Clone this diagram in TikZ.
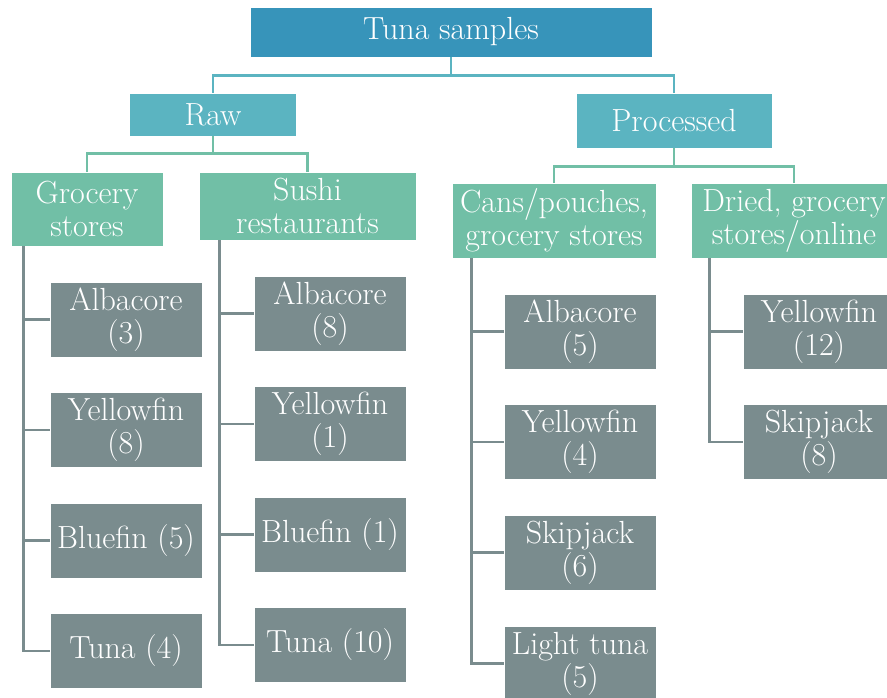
\documentclass[tikz,border=0pt]{standalone}
\usetikzlibrary{positioning}

\definecolor{rootblue}{HTML}{3794BA}
\definecolor{midblue}{HTML}{5BB4C1}
\definecolor{groupgreen}{HTML}{71BFA6}
\definecolor{leafgray}{HTML}{7A8C8E}

\tikzset{
    box/.style={rectangle, inner sep=0pt, align=center, text=white,
        font=\rmfamily\fontsize{32}{33}\selectfont, draw=white, line width=0.6pt},
    rootbox/.style={box, fill=rootblue},
    kindbox/.style={box, fill=midblue},
    placebox/.style={box, fill=groupgreen},
    leafbox/.style={box, fill=leafgray, minimum width=152pt, minimum height=75pt},
    kindline/.style={draw=midblue, line width=2.6pt},
    placeline/.style={draw=groupgreen, line width=2.6pt},
    leafline/.style={draw=leafgray, line width=2.6pt},
}

\begin{document}
\begin{tikzpicture}[x=1pt,y=-1pt]
    \useasboundingbox (0,0) rectangle (887,698);

    %TOP LEVELS
    \node[rootbox, minimum width=402pt, minimum height=50pt] (tuna) at (451,32) {Tuna samples};
    \node[kindbox, minimum width=167pt, minimum height=43pt] (raw) at (213,114.5) {Raw};
    \node[kindbox, minimum width=196pt, minimum height=55pt] (proc) at (674,120.5) {Processed};

    %WHERE THEY WERE BOUGHT
    \node[placebox, minimum width=152pt, minimum height=74pt] (groc) at (87,209) {Grocery\\stores};
    \node[placebox, minimum width=217pt, minimum height=68pt] (sushi) at (307.5,206) {Sushi\\restaurants};
    \node[placebox, minimum width=204pt, minimum height=75pt] (cans) at (554,220.5) {Cans/pouches,\\grocery stores};
    \node[placebox, minimum width=206pt, minimum height=75pt] (dried) at (794,220.5) {Dried, grocery\\stores/online};

    %connectors between the upper levels
    \draw[kindline] (tuna.south) -- ++(0,18) -| (raw.north);
    \draw[kindline] (tuna.south) -- ++(0,18) -| (proc.north);
    \draw[placeline] (raw.south) -- ++(0,17) -| (groc.north);
    \draw[placeline] (raw.south) -- ++(0,17) -| (sushi.north);
    \draw[placeline] (proc.south) -- ++(0,18) -| (cans.north);
    \draw[placeline] (proc.south) -- ++(0,18) -| (dried.north);

    %SPECIES (name/text/x/y/parent/offset of the side line)
    \foreach \name/\txt/\x/\y/\parent/\off in {
        g1/{Albacore\\(3)}/126/319.5/groc/13,
        g2/{Yellowfin\\(8)}/126/430/groc/13,
        g3/{Bluefin (5)}/126/540.5/groc/13,
        g4/{Tuna (4)}/126/651/groc/13,
        s1/{Albacore\\(8)}/330/313.5/sushi/21,
        s2/{Yellowfin\\(1)}/330/424/sushi/21,
        s3/{Bluefin (1)}/330/534.5/sushi/21,
        s4/{Tuna (10)}/330/645/sushi/21,
        c1/{Albacore\\(5)}/580/331.5/cans/20,
        c2/{Yellowfin\\(4)}/580/442/cans/20,
        c3/{Skipjack\\(6)}/580/552.5/cans/20,
        c4/{Light tuna\\(5)}/580/663.5/cans/20,
        d1/{Yellowfin\\(12)}/819/331.5/dried/19,
        d2/{Skipjack\\(8)}/819/442/dried/19}{
        \node[leafbox] (\name) at (\x,\y) {\txt};
        \draw[leafline] ([xshift=\off pt]\parent.south west) |- (\name.west);
    } %end of species loop
\end{tikzpicture}
\end{document}
